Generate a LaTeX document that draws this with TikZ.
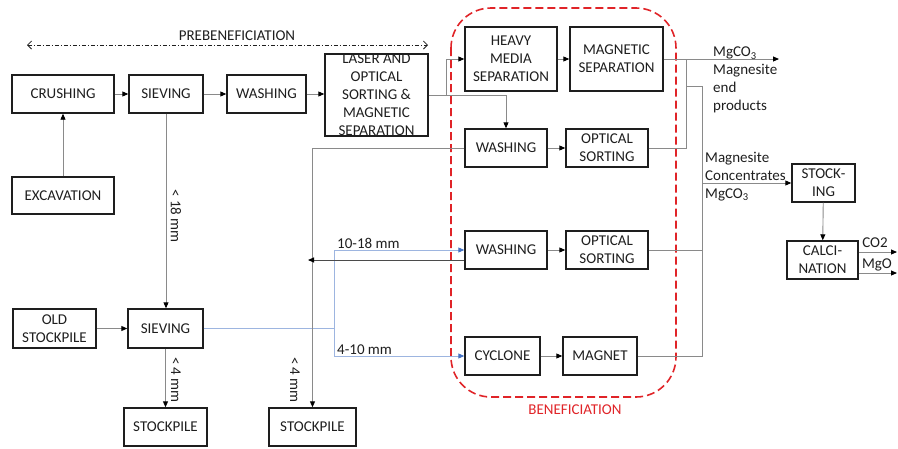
\documentclass[tikz,border=0pt]{standalone}
\usepackage{fontspec}
\setmainfont{Carlito}
\usetikzlibrary{arrows.meta}
\definecolor{linegray}{HTML}{8A8A8A}
\definecolor{boxline}{HTML}{1E1E1E}
\definecolor{flowblue}{HTML}{9DB5E0}
\definecolor{tipblue}{HTML}{4472C4}
\definecolor{benred}{HTML}{E02428}

\begin{document}
\begin{tikzpicture}[x=1pt,y=-1pt,
  font=\fontsize{15}{18}\selectfont,
  box/.style={draw=boxline, line width=1.4pt, inner sep=0pt, align=center, text=boxline},
  sz/.style 2 args={minimum width=#1pt, minimum height=#2pt},
  conn/.style={draw=linegray, line width=0.9pt},
  arr/.style={conn, -{Triangle[length=6pt,width=5pt,color=black]}},
  barr/.style={draw=flowblue, line width=0.9pt, -{Triangle[length=6pt,width=5pt,color=tipblue]}},
  bline/.style={draw=flowblue, line width=0.9pt},
  lbl/.style={text=boxline, inner sep=0pt},
]
\useasboundingbox (0,0) rectangle (898,448);

% beneficiation zone
\draw[benred, line width=1.6pt, dash pattern=on 8pt off 4pt, rounded corners=40pt]
  (451,8) rectangle (676,397);
\node[text=benred, inner sep=0pt] (bentitle) at (575,410) {BENEFICIATION};

% prebeneficiation span
\coordinate (pl) at (27,45);
\coordinate (pr) at (428,45);
\draw[draw=boxline, line width=0.8pt, dash pattern=on 4pt off 2pt on 1pt off 2pt,
  {Straight Barb[length=4pt,width=8pt]}-{Straight Barb[length=4pt,width=8pt]}] (pl) -- (pr);
\node[lbl] (pretitle) at (237,36) {PREBENEFICIATION};

% process boxes
\node[box, sz={102}{38}] (crush) at (63,94) {CRUSHING};
\node[box, sz={74}{38}] (sieve1) at (166,94) {SIEVING};
\node[box, sz={79}{38}] (wash1) at (266.5,94) {WASHING};
\node[box, sz={103}{82}] (laser) at (376.5,95) {};
\node[lbl, align=center] (lasertxt) at (laser.center) {LASER AND\\OPTICAL\\SORTING \&\\MAGNETIC\\SEPARATION};
\node[box, sz={102}{37}] (excav) at (63,195.5) {EXCAVATION};
\node[box, sz={83}{39}] (oldsp) at (54.5,328.5) {OLD\\STOCKPILE};
\node[box, sz={75}{39}] (sieve2) at (165.5,328.5) {SIEVING};
\node[box, sz={83}{38}] (sp1) at (165.5,427) {STOCKPILE};
\node[box, sz={87}{38}] (sp2) at (312.5,427) {STOCKPILE};

\node[box, sz={92}{64}] (heavy) at (511,59) {HEAVY\\MEDIA\\SEPARATION};
\node[box, sz={93}{64}] (magsep) at (616.5,59) {MAGNETIC\\SEPARATION};
\node[box, sz={82}{38}] (wash2) at (506,148) {WASHING};
\node[box, sz={82}{38}] (opt1) at (607,148) {OPTICAL\\SORTING};
\node[box, sz={82}{38}] (wash3) at (506,250) {WASHING};
\node[box, sz={82}{38}] (opt2) at (607,250) {OPTICAL\\SORTING};
\node[box, sz={75}{38}] (cyclone) at (502.5,356) {CYCLONE};
\node[box, sz={74}{38}] (magnet) at (600,356) {MAGNET};
\node[box, sz={63}{38}] (stocking) at (823.5,183) {STOCK-\\ING};
\node[box, sz={71}{38}] (calc) at (822.5,260) {CALCI-\\NATION};

% junctions and free ends
\coordinate (lj) at (446,95);
\coordinate (bj) at (334,328.5);
\coordinate (w3out) at (308,260);
\coordinate (j1) at (686,59);
\coordinate (j2) at (686,86);
\coordinate (j3) at (702,86);
\coordinate (endp) at (779,59);
\coordinate (co2end) at (897,252);
\coordinate (mgoend) at (897,273);

% prebeneficiation line
\draw[arr] (excav) -- (crush);
\draw[arr] (crush) -- (sieve1);
\draw[arr] (sieve1) -- (wash1);
\draw[arr] (wash1.east) -- (wash1.east -| laser.west);
\draw[arr] (sieve1.south) -- (sieve1.south |- sieve2.north);
\node[lbl, rotate=-90] (l18) at (176,216) {< 18 mm};
\draw[arr] (oldsp) -- (sieve2);
\draw[arr] (sieve2) -- (sp1);
\node[lbl, rotate=-90] (l4a) at (176,380) {< 4 mm};

% size fractions
\draw[bline] (sieve2.east) -- (bj);
\draw[barr] (bj) |- (wash3.west);
\draw[barr] (bj) |- (cyclone.west);
\node[lbl, anchor=west] (l1018) at (337,243) {10-18 mm};
\node[lbl, anchor=west] (l410) at (337,350) {4-10 mm};

% fines to stockpile
\draw[arr] (wash2.west) -| (sp2.north);
\node[lbl, rotate=-90] (l4b) at (295,380) {< 4 mm};
\draw[arr, draw=boxline!80] ([yshift=-10pt]wash3.west) -- (w3out);

% beneficiation flows
\draw[arr] (laser.east |- lj) -- (lj) |- (heavy.west);
\draw[arr] (lj) -| (wash2.north);
\draw[arr] (heavy) -- (magsep);
\draw[arr] (wash2) -- (opt1);
\draw[arr] (wash3) -- (opt2);
\draw[arr] (cyclone) -- (magnet);

% products
\draw[arr] (magsep.east) -- (endp);
\draw[conn] (opt1.east) -| (j1);
\draw[conn] (j2) -- (j3) -- (j3 |- magnet.east) -- (magnet.east);
\draw[conn] (opt2.east) -- (opt2.east -| j3);
\draw[arr] (j3 |- stocking.west) -- (stocking.west);
\draw[arr] (stocking) -- (calc);
\draw[arr] (calc.east |- co2end) -- (co2end);
\draw[arr] (calc.east |- mgoend) -- (mgoend);

\node[lbl, anchor=north west, align=left] (endtxt) at (713,47)
  {MgCO\textsubscript{3}\\Magnesite\\end\\products};
\node[lbl, anchor=north west, align=left] (conctxt) at (705,152)
  {Magnesite\\Concentrates\\MgCO\textsubscript{3}};
\node[lbl] (co2) at (875,243) {CO2};
\node[lbl] (mgo) at (877,265) {MgO};
\end{tikzpicture}
\end{document}
